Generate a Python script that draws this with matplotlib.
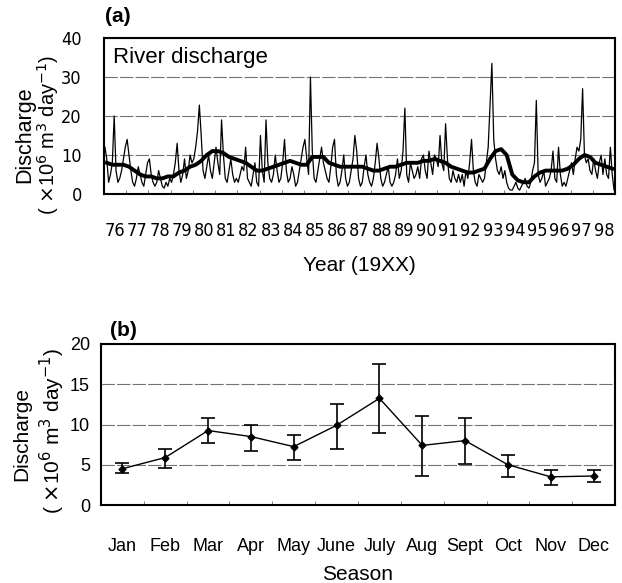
import numpy as np
import matplotlib.pyplot as plt

plt.rcParams['font.family'] = ['Liberation Sans', 'DejaVu Sans']
NARROW = ['DejaVu Sans', 'Liberation Sans']

# ---- panel (a): monthly river discharge 1976-1998 (x 10^6 m3/day) ----
years = np.arange(1976, 1999)
monthly = [
    [12, 9, 3, 5, 8, 20, 6, 3, 4, 6, 9, 12],        # 1976
    [14, 10, 6, 3, 2, 4, 7, 5, 3, 2, 5, 8],         # 1977
    [9, 5, 3, 2, 3, 6, 4, 2, 1.5, 3, 2, 4],         # 1978
    [3, 5, 8, 13, 6, 3, 5, 9, 4, 6, 10, 8],         # 1979
    [9, 12, 16, 22.8, 15, 6, 4, 7, 10, 6, 4, 8],    # 1980
    [12, 8, 5, 19, 10, 4, 3, 6, 9, 5, 3, 4],        # 1981
    [3, 5, 7, 6, 12, 4, 3, 2, 5, 8, 3, 2],          # 1982
    [15, 6, 3, 19, 8, 4, 3, 5, 10, 6, 3, 4],        # 1983
    [8, 14, 6, 3, 4, 7, 5, 2, 3, 6, 9, 12],         # 1984
    [14, 9, 5, 30, 11, 4, 3, 6, 9, 12, 8, 6],       # 1985
    [4, 3, 7, 12, 14, 5, 2, 3, 6, 10, 4, 2],        # 1986
    [3, 6, 9, 15, 11, 4, 2, 3, 7, 10, 5, 3],        # 1987
    [2, 4, 8, 13, 9, 4, 2, 3, 5, 7, 3, 2],          # 1988
    [3, 5, 9, 4, 6, 11, 22, 5, 3, 8, 6, 4],         # 1989
    [5, 7, 4, 9, 10, 6, 4, 11, 8, 5, 10, 9],        # 1990
    [7, 15, 8, 6, 18, 9, 4, 3, 6, 4, 3, 5],         # 1991
    [3, 5, 2, 6, 4, 8, 14, 6, 3, 2, 5, 4],          # 1992
    [3, 4, 8, 12, 23, 33.5, 14, 9, 6, 5, 7, 4],     # 1993
    [6, 3, 1.5, 1, 1, 2, 3, 1.5, 1, 2, 3, 4],       # 1994
    [2, 1.5, 3, 6, 8, 24, 5, 3, 4, 6, 2, 3],        # 1995
    [4, 6, 11, 4, 3, 12, 5, 2, 3, 2, 4, 6],         # 1996
    [8, 5, 9, 12, 11, 14, 27, 10, 8, 9, 6, 5],      # 1997
    [9, 6, 4, 8, 10, 5, 9, 5, 4, 12, 5, 1],         # 1998
]
# smoothed discharge read quarterly
smooth_q = [
    [8, 7.5, 7.5, 7.5], [7, 6, 5, 4.5], [4.5, 4, 4, 4.5], [4.5, 5.5, 6, 7],
    [7.5, 8.5, 10, 11], [11, 10.5, 9.5, 9], [8.5, 8, 7, 6], [6, 6.5, 7, 7.5],
    [8, 8.5, 8, 7.5], [7.5, 9.5, 9.5, 9.5], [8, 7.5, 7, 7], [7, 7, 7, 6.5],
    [6, 6, 6.5, 7], [7, 7.5, 8, 8], [8, 8.5, 8.5, 9], [8.5, 8, 7, 6.5],
    [6, 5.5, 5.5, 6], [6.5, 9, 11, 11.5], [10, 5, 3.5, 3], [3, 4.5, 5.5, 6],
    [6, 6, 6, 6.5], [7.5, 9, 10, 9.5], [8, 7.5, 7, 6.5],
]
year_labels = [str(y)[2:] for y in years]

# ---- panel (b): seasonal mean with range ----
months = ['Jan', 'Feb', 'Mar', 'Apr', 'May', 'June', 'July', 'Aug', 'Sept', 'Oct', 'Nov', 'Dec']
mean_b = [4.5, 5.9, 9.25, 8.5, 7.25, 9.9, 13.25, 7.4, 8.0, 5.0, 3.5, 3.6]
low_b = [4.0, 4.6, 7.75, 6.75, 5.6, 7.0, 9.0, 3.6, 5.1, 3.5, 2.5, 2.9]
high_b = [5.2, 7.0, 10.75, 10.0, 8.75, 12.6, 17.5, 11.1, 10.75, 6.25, 4.4, 4.4]

fig = plt.figure(figsize=(6.22, 5.83), dpi=100)
W, H = 622, 583

def frac(l, t, r, b):
    return [l / W, 1 - b / H, (r - l) / W, (b - t) / H]

# ---------- (a) ----------
ax = fig.add_axes(frac(104, 38, 615, 194))
y = np.array(monthly, dtype=float).ravel()
t = years[0] + (np.arange(len(y)) + 0.5) / 12
ys = np.array(smooth_q, dtype=float).ravel()
ts = years[0] + (np.arange(len(ys)) + 0.5) / 4
ax.plot(t, y, color='black', lw=0.9)
ax.plot(ts, ys, color='black', lw=2.8)
ax.set_xlim(1976, 1999)
ax.set_ylim(0, 40)
ax.set_yticks([0, 10, 20, 30, 40])
ax.set_xticks(years + 0.5)
ax.set_xticklabels(year_labels, family=NARROW, stretch='condensed', fontsize=13)
ax.set_xticks(years, minor=True)
for lab in ax.get_yticklabels():
    lab.set_family(NARROW)
    lab.set_stretch('condensed')
    lab.set_fontsize(13)
ax.tick_params(axis='x', which='major', length=0, pad=20)
ax.tick_params(axis='x', which='minor', direction='in', length=3, width=0.6, color='0.4')
ax.tick_params(axis='y', length=0, pad=16)
ax.grid(axis='y', color='0.45', lw=0.8, ls=(0, (12, 2)))
ax.set_axisbelow(True)
for sp in ax.spines.values():
    sp.set_linewidth(1.5)
ax.text(0.018, 0.94, 'River discharge', transform=ax.transAxes, fontsize=16, va='top', ha='left')
ax.set_xlabel('Year (19XX)', fontsize=15, labelpad=12)
fig.text(105 / W, 1 - 16 / H, '(a)', fontsize=15, fontweight='bold', va='center', ha='left')
fig.text(25 / W, 1 - 135 / H, 'Discharge', rotation=90, fontsize=15.5, ha='center', va='center')
fig.text(48 / W, 1 - 135 / H, '( $\\times$10$^6$ m$^3$ day$^{-1}$)', rotation=90, fontsize=14.5,
         ha='center', va='center')

# ---------- (b) ----------
bx = fig.add_axes(frac(101, 344, 615, 505))
xm = np.arange(len(months))
mean_arr = np.array(mean_b)
err = [mean_arr - np.array(low_b), np.array(high_b) - mean_arr]
bx.errorbar(xm, mean_arr, yerr=err, color='black', lw=1.0, elinewidth=1.2,
            capsize=5, capthick=1.2, marker='D', ms=3.5)
bx.set_xlim(-0.5, len(months) - 0.5)
bx.set_ylim(0, 20)
bx.set_yticks([0, 5, 10, 15, 20])
bx.set_xticks(xm)
bx.set_xticklabels(months, fontsize=13)
bx.set_xticks(xm[:-1] + 0.5, minor=True)
bx.tick_params(axis='x', which='major', length=0, pad=24)
bx.tick_params(axis='x', which='minor', direction='in', length=3, width=0.6, color='0.4')
bx.tick_params(axis='y', length=0, pad=8, labelsize=13)
bx.grid(axis='y', color='0.45', lw=0.8, ls=(0, (12, 2)))
bx.set_axisbelow(True)
for sp in bx.spines.values():
    sp.set_linewidth(1.5)
bx.set_xlabel('Season', fontsize=15, labelpad=7)
fig.text(110 / W, 1 - 330 / H, '(b)', fontsize=15, fontweight='bold', va='center', ha='left')
fig.text(22 / W, 1 - 434 / H, 'Discharge', rotation=90, fontsize=15, ha='center', va='center')
fig.text(52 / W, 1 - 431 / H, '( $\\times$10$^6$ m$^3$ day$^{-1}$)', rotation=90, fontsize=15,
         ha='center', va='center')

fig.savefig('out.png', dpi=100)
